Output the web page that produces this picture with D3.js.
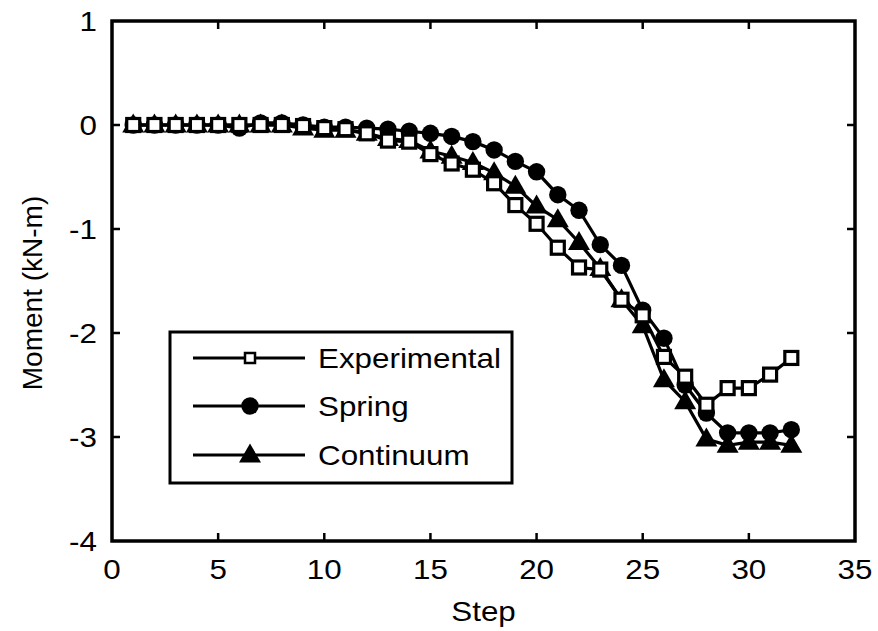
<!DOCTYPE html>
<html><head><meta charset="utf-8">
<script src="https://cdn.jsdelivr.net/npm/d3@7"></script>
<style>body{margin:0;background:#fff}svg{display:block}text{font-family:"Liberation Sans",Arial,sans-serif;fill:#000}</style>
</head><body><svg id="c" width="878" height="631"></svg>
<script>
const steps = d3.range(1, 33);
const experimental = [0,0,0,0,0,0,0,0,-0.01,-0.03,-0.04,-0.08,-0.15,-0.16,-0.28,-0.37,-0.43,-0.56,-0.77,-0.95,-1.18,-1.37,-1.39,-1.68,-1.83,-2.23,-2.42,-2.69,-2.53,-2.53,-2.40,-2.24];
const spring = [0,0,0,0,0,-0.03,0.02,0.02,0,-0.02,-0.02,-0.03,-0.04,-0.06,-0.08,-0.11,-0.16,-0.24,-0.35,-0.45,-0.67,-0.82,-1.15,-1.35,-1.78,-2.05,-2.50,-2.77,-2.96,-2.96,-2.96,-2.93];
const continuum = [0,0,0,0,0,0,0,0,-0.03,-0.05,-0.05,-0.08,-0.13,-0.15,-0.25,-0.30,-0.36,-0.46,-0.59,-0.78,-0.91,-1.13,-1.38,-1.68,-1.93,-2.45,-2.66,-3.02,-3.08,-3.05,-3.05,-3.08];
const xTicks = [0,5,10,15,20,25,30,35];
const yTicks = [1,0,-1,-2,-3,-4];
const seriesNames = ["Experimental","Spring","Continuum"];

const svg = d3.select("#c");
const L=112, R=855, T=21, B=541;
const x = d3.scaleLinear().domain([0,35]).range([L,R]);
const y = d3.scaleLinear().domain([-4,1]).range([B,T]);
const SX = 1.12, FS = 28;

function txt(g, s, px, py, anchor, rot, sx){
  g.append("text").attr("transform", `translate(${px},${py})` + (rot? ` rotate(${rot})`:"") + ` scale(${sx||SX},1)`)
   .attr("text-anchor", anchor).attr("font-size", FS).text(s);
}

// ticks (inward, all four sides)
const tk = svg.append("g").attr("stroke","#000").attr("stroke-width",2.5);
xTicks.slice(1,-1).forEach(v=>{
  tk.append("line").attr("x1",x(v)).attr("x2",x(v)).attr("y1",B).attr("y2",B-8);
  tk.append("line").attr("x1",x(v)).attr("x2",x(v)).attr("y1",T).attr("y2",T+8);
});
yTicks.slice(1,-1).forEach(v=>{
  tk.append("line").attr("x1",L).attr("x2",L+8).attr("y1",y(v)).attr("y2",y(v));
  tk.append("line").attr("x1",R).attr("x2",R-8).attr("y1",y(v)).attr("y2",y(v));
});
svg.append("rect").attr("x",L).attr("y",T).attr("width",R-L).attr("height",B-T)
  .attr("fill","none").attr("stroke","#000").attr("stroke-width",3.5);

// tick labels
const lab = svg.append("g");
xTicks.forEach(v=>txt(lab, String(v), x(v), 579, "middle"));
yTicks.forEach(v=>txt(lab, String(v), 97, y(v)+10, "end"));
txt(lab, "Step", (L+R)/2, 621, "middle");
txt(lab, "Moment (kN-m)", 42, 293, "middle", -90, 1.0);

// series
const line = d3.line().x((d,i)=>x(steps[i])).y(d=>y(d));
const data = [experimental, spring, continuum];
data.forEach(s=>svg.append("path").attr("d", line(s)).attr("fill","none").attr("stroke","#000").attr("stroke-width",3.2));

function marker(g, type, cx, cy){
  if(type===0){
    g.append("rect").attr("x",cx-6.5).attr("y",cy-6.5).attr("width",13).attr("height",13)
     .attr("fill","#fff").attr("stroke","#000").attr("stroke-width",3.2);
  } else if(type===1){
    g.append("circle").attr("cx",cx).attr("cy",cy).attr("r",8.7).attr("fill","#000");
  } else {
    g.append("path").attr("d",`M${cx},${cy-11.5}L${cx+11},${cy+7.5}L${cx-11},${cy+7.5}Z`).attr("fill","#000");
  }
}
const mk = svg.append("g");
[2,1,0].forEach(k=>data[k].forEach((v,i)=>marker(mk, k, x(steps[i]), y(v))));

// legend
const lg = svg.append("g");
lg.append("rect").attr("x",170).attr("y",332).attr("width",342).attr("height",151)
  .attr("fill","#fff").attr("stroke","#000").attr("stroke-width",3);
const rowsY = [358,406,455];
seriesNames.forEach((n,k)=>{
  lg.append("line").attr("x1",193).attr("x2",305).attr("y1",rowsY[k]).attr("y2",rowsY[k]).attr("stroke","#000").attr("stroke-width",3);
  if(k===0){
    lg.append("rect").attr("x",245).attr("y",rowsY[k]-5).attr("width",10).attr("height",10).attr("fill","#fff").attr("stroke","#000").attr("stroke-width",2.5);
  } else marker(lg, k, 250, rowsY[k]);
  txt(lg, n, 318, rowsY[k]+10, "start");
});
</script></body></html>
